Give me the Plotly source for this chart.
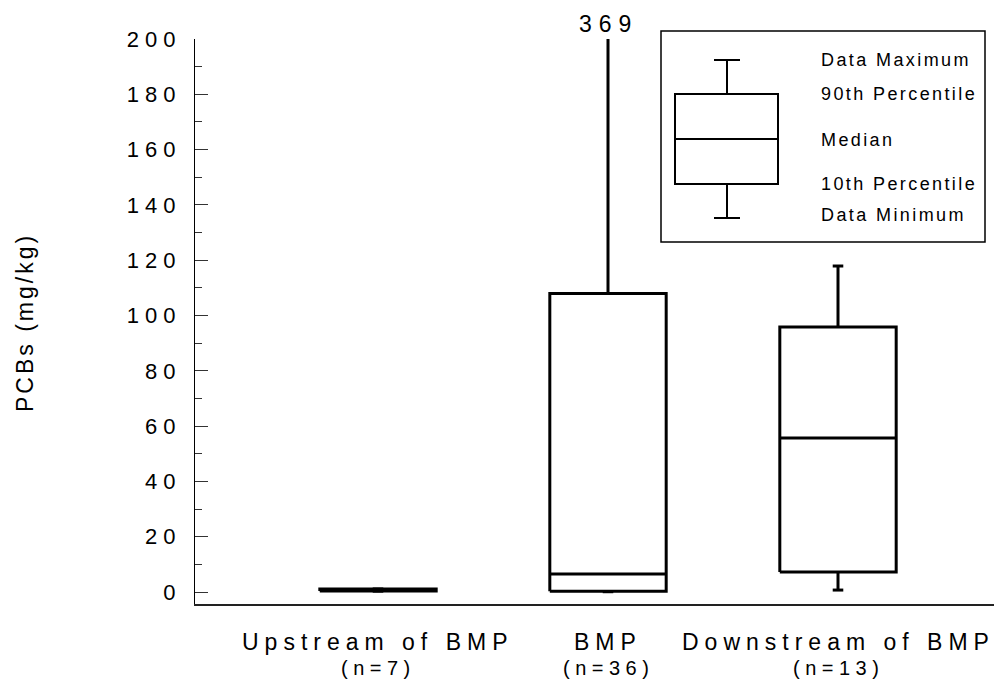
import plotly.graph_objects as go

# ---------------- data ----------------
categories = ["Upstream of BMP", "BMP", "Downstream of BMP"]
sample_counts = [7, 36, 13]
data_min = [0.3, 0.1, 0.7]
pct10 = [0.35, 0.25, 7.2]
median = [0.7, 6.5, 55.7]
pct90 = [1.05, 108.0, 95.8]
data_max = [1.1, 369.0, 117.9]
y_tick_values = [0, 20, 40, 60, 80, 100, 120, 140, 160, 180, 200]
legend_labels = ["Data Maximum", "90th Percentile", "Median", "10th Percentile", "Data Minimum"]

# ---------------- layout constants ----------------
OFF = 8  # page body margin offset
W, H = 1002 - OFF, 690 - OFF
# plot area in reference pixel coordinates
PL, PR, PT, PB = 195, 1002, 39, 604
L, T = PL - OFF, PT - OFF
R, B = W - (PR - OFF), H - (PB - OFF)
PW, PH = PR - PL, PB - PT
FONT = "Liberation Sans, Arial, sans-serif"
Y_TOP = 200


def px(xp):
    return (xp - PL) / PW


def py(yp):
    return (PB - yp) / PH


def spaced(text, sp):
    return f'<span style="letter-spacing:{sp}px">{text}</span>'


BOX_HALF = 0.253
CAP_HALF = 0.023

xs, ys = [], []
for i in range(len(categories)):
    x0, x1 = i - BOX_HALF, i + BOX_HALF
    xs += [x0, x1, x1, x0, x0, None]
    ys += [pct10[i], pct10[i], pct90[i], pct90[i], pct10[i], None]
    xs += [x0, x1, None]
    ys += [median[i], median[i], None]
    xs += [i, i, None, i - CAP_HALF, i + CAP_HALF, None]
    ys += [pct90[i], data_max[i], None, data_max[i], data_max[i], None]
    xs += [i, i, None, i - CAP_HALF, i + CAP_HALF, None]
    ys += [pct10[i], data_min[i], None, data_min[i], data_min[i], None]

fig = go.Figure()
fig.add_trace(go.Scatter(x=xs, y=ys, mode="lines",
                         line=dict(color="black", width=3),
                         hoverinfo="skip", showlegend=False))

annotations = []
for i, (cat, n) in enumerate(zip(categories, sample_counts)):
    annotations.append(dict(x=i, xref="x", y=py(642), yref="paper",
                            text=spaced(cat, 6), showarrow=False,
                            xanchor="center", yanchor="middle",
                            font=dict(family=FONT, size=23, color="black")))
    annotations.append(dict(x=i, xref="x", y=py(668), yref="paper",
                            text=spaced(f"(n={n})", 5.5), showarrow=False,
                            xanchor="center", yanchor="middle",
                            font=dict(family=FONT, size=20, color="black")))

for i in range(len(categories)):
    if data_max[i] > Y_TOP:
        annotations.append(dict(x=i, xref="x", y=Y_TOP, yref="y",
                                text=spaced(f"{data_max[i]:.0f}", 7), showarrow=False,
                                xanchor="center", yanchor="bottom", yshift=1,
                                borderpad=0,
                                font=dict(family=FONT, size=23, color="black")))

annotations.append(dict(x=px(25), xref="paper", y=py(323), yref="paper",
                        text=spaced("PCBs (mg/kg)", 3), textangle=-90, showarrow=False,
                        xanchor="center", yanchor="middle",
                        font=dict(family=FONT, size=23, color="black")))

legend_y = [60, 94, 140, 184, 215]
for lab, yy in zip(legend_labels, legend_y):
    annotations.append(dict(x=px(819), xref="paper", y=py(yy), yref="paper",
                            text=spaced(lab, 2.4), showarrow=False,
                            xanchor="left", yanchor="middle",
                            font=dict(family=FONT, size=18, color="black")))

shapes = []


def pshape(kind, x0, y0, x1, y1, w):
    shapes.append(dict(type=kind, xref="paper", yref="paper",
                       x0=px(x0), y0=py(y0), x1=px(x1), y1=py(y1),
                       line=dict(color="black", width=w), layer="above"))


pshape("rect", 661, 31, 985, 242, 1.5)
pshape("rect", 675, 94, 778, 184, 2)
pshape("line", 675, 139, 778, 139, 2)
pshape("line", 727, 60, 727, 94, 2)
pshape("line", 727, 184, 727, 218, 2)
pshape("line", 714, 60, 740, 60, 2)
pshape("line", 714, 218, 740, 218, 2)

fig.update_layout(
    width=W, height=H,
    margin=dict(l=L, r=R, t=T, b=B, autoexpand=False),
    paper_bgcolor="white", plot_bgcolor="white",
    showlegend=False,
    font=dict(family=FONT, color="black"),
    xaxis=dict(range=[(PL - 378) / 230, (PR - 378) / 230],
               showline=True, linecolor="#222", linewidth=1.5,
               showgrid=False, zeroline=False, showticklabels=False, ticks=""),
    yaxis=dict(range=[-4.34, Y_TOP],
               showline=True, linecolor="black", linewidth=1.2,
               showgrid=False, zeroline=False,
               ticks="inside", ticklen=13, tickwidth=1, tickcolor="#333",
               tickvals=y_tick_values,
               ticktext=[spaced(str(v), 6) for v in y_tick_values],
               tickfont=dict(family=FONT, size=22, color="black"),
               ticklabelstandoff=8,
               minor=dict(ticks="inside", ticklen=7, tickwidth=1, tickcolor="#333",
                          dtick=10, tick0=0)),
    annotations=annotations,
    shapes=shapes,
)

fig.write_html("out.html")
